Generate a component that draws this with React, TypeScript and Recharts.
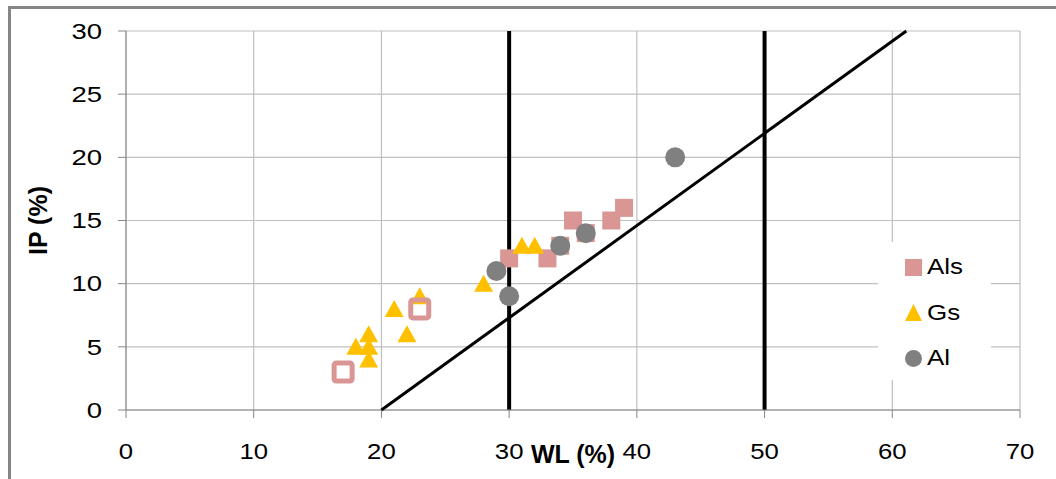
import React from 'react';
import {
  ScatterChart,
  Scatter,
  XAxis,
  YAxis,
  CartesianGrid,
  ReferenceLine,
  Legend,
  Label,
} from 'recharts';

const FONT = '"Liberation Sans", Arial, Helvetica, sans-serif';
const PINK = '#D99694';
const YELLOW = '#FFC000';
const GRAY = '#808080';
const GRID = '#BFBFBF';
const AXIS = '#868686';

// Als samples (filled squares)
const alsWL = [30, 33, 34, 35, 36, 38, 39];
const alsIP = [12, 12, 13, 15, 14, 15, 16];
// Als samples shown as open squares
const alsOpenWL = [17, 23];
const alsOpenIP = [3, 8];
// Gs samples
const gsWL = [18, 19, 19, 19, 21, 22, 23, 28, 31, 32];
const gsIP = [5, 6, 5, 4, 8, 6, 9, 10, 13, 13];
// Al samples
const alWL = [29, 30, 34, 36, 43];
const alIP = [11, 9, 13, 14, 20];
// A-line end points
const aLineWL = [20, 61.1];
const aLineIP = [0, 30];
// liquid limit boundaries
const limitWL = [30, 50];

const xTicks = [0, 10, 20, 30, 40, 50, 60, 70];
const yTicks = [0, 5, 10, 15, 20, 25, 30];
const legendOrder = ['Als', 'Gs', 'Al'];

const toPoints = (wl: number[], ip: number[]) => wl.map((w, i) => ({ wl: w, ip: ip[i] }));

const SquareMark = (p: any) => <rect x={p.cx - 9} y={p.cy - 9} width={18} height={18} fill={PINK} />;
const OpenSquareMark = (p: any) => (
  <rect x={p.cx - 9} y={p.cy - 9} width={18} height={18} rx={2} fill="none" stroke={PINK} strokeWidth={5} />
);
const TriangleMark = (p: any) => (
  <polygon points={`${p.cx},${p.cy - 9} ${p.cx + 9.5},${p.cy + 8} ${p.cx - 9.5},${p.cy + 8}`} fill={YELLOW} />
);
const CircleMark = (p: any) => <circle cx={p.cx} cy={p.cy} r={10} fill={GRAY} />;
const NoMark = () => <g />;

// tick labels, slightly widened
const YTick = (p: any) => (
  <g transform={`translate(${p.x},${p.y})`}>
    <text transform="scale(1.25,1)" textAnchor="end" dy="0.355em" fontSize={22} fontFamily={FONT} fill="#000">
      {p.payload.value}
    </text>
  </g>
);
const XTick = (p: any) => (
  <g transform={`translate(${p.x},${p.y})`}>
    <text transform="scale(1.12,1)" textAnchor="middle" dy="0.71em" fontSize={23} fontFamily={FONT} fill="#000">
      {p.payload.value}
    </text>
  </g>
);

const legendIcon = (type: string, color: string) => {
  if (type === 'triangle') return <polygon points="8.5,0 17,17 0,17" fill={color} />;
  if (type === 'circle') return <circle cx={8.5} cy={8.5} r={8.5} fill={color} />;
  return <rect x={0} y={0} width={17} height={17} fill={color} />;
};

const LegendBox = (props: any) => {
  const items = (props.payload || [])
    .filter((e: any) => e.type !== 'none' && legendOrder.includes(e.value))
    .sort((a: any, b: any) => legendOrder.indexOf(a.value) - legendOrder.indexOf(b.value));
  return (
    <div style={{ position: 'relative', width: 113, height: 138, background: '#fff' }}>
      {items.map((entry: any, i: number) => (
        <div
          key={entry.value}
          style={{
            position: 'absolute',
            left: 27,
            top: 25 + i * 45.5 - 15,
            height: 30,
            display: 'flex',
            alignItems: 'center',
            whiteSpace: 'nowrap',
          }}
        >
          <svg width={17} height={17} style={{ display: 'block' }}>
            {legendIcon(entry.type, entry.color)}
          </svg>
          <span
            style={{
              marginLeft: 5,
              fontSize: 22,
              fontFamily: FONT,
              color: '#000',
              lineHeight: '30px',
              display: 'inline-block',
              transform: 'scaleX(1.18)',
              transformOrigin: 'left center',
            }}
          >
            {entry.value}
          </span>
        </div>
      ))}
    </div>
  );
};

const XTitle = (p: any) => {
  const vb = p.viewBox || { x: 126, y: 410, width: 894, height: 69 };
  return (
    <text x={vb.x + vb.width / 2} y={vb.y + 53} textAnchor="middle" fontSize={25} fontWeight="bold" fontFamily={FONT} fill="#000">
      WL (%)
    </text>
  );
};

const YTitle = (p: any) => {
  const vb = p.viewBox || { x: 0, y: 31, width: 126, height: 379 };
  const cy = vb.y + vb.height / 2;
  return (
    <text x={47} y={cy} transform={`rotate(-90, 47, ${cy})`} textAnchor="middle" fontSize={25} fontWeight="bold" fontFamily={FONT} fill="#000">
      IP (%)
    </text>
  );
};

export default function App() {
  return (
    <div style={{ position: 'absolute', left: 0, top: 0, width: 1056, height: 479, overflow: 'hidden', background: '#fff' }}>
      <div
        style={{
          position: 'absolute',
          left: 8,
          top: 6,
          width: 1200,
          height: 600,
          borderLeft: `3px solid ${AXIS}`,
          borderTop: `3px solid ${AXIS}`,
        }}
      />
      <div style={{ position: 'absolute', left: 0, top: 0 }}>
        <ScatterChart width={1056} height={479} margin={{ top: 31, right: 36, bottom: 0, left: 0 }}>
          <CartesianGrid stroke={GRID} strokeWidth={1.2} />
          <XAxis
            type="number"
            dataKey="wl"
            domain={[0, 70]}
            ticks={xTicks}
            interval={0}
            height={69}
            stroke={AXIS}
            tickSize={8}
            tickMargin={25}
            tick={XTick}
          >
            <Label content={XTitle} />
          </XAxis>
          <YAxis
            type="number"
            dataKey="ip"
            domain={[0, 30]}
            ticks={yTicks}
            interval={0}
            width={126}
            stroke={AXIS}
            tickSize={8}
            tickMargin={16}
            tick={YTick}
          >
            <Label content={YTitle} />
          </YAxis>
          <Legend
            layout="vertical"
            align="center"
            verticalAlign="middle"
            content={<LegendBox />}
            wrapperStyle={{ left: 878, top: 242, width: 113, height: 138, margin: 0 }}
          />
          <Scatter name="Als" data={toPoints(alsWL, alsIP)} fill={PINK} legendType="square" shape={SquareMark} isAnimationActive={false} />
          <Scatter name="Gs" data={toPoints(gsWL, gsIP)} fill={YELLOW} legendType="triangle" shape={TriangleMark} isAnimationActive={false} />
          <Scatter name="Al" data={toPoints(alWL, alIP)} fill={GRAY} legendType="circle" shape={CircleMark} isAnimationActive={false} />
          <Scatter name="Als (open)" data={toPoints(alsOpenWL, alsOpenIP)} fill={PINK} legendType="none" shape={OpenSquareMark} isAnimationActive={false} />
          {limitWL.map((w) => (
            <ReferenceLine key={w} x={w} stroke="#000" strokeWidth={4} />
          ))}
          <Scatter
            name="A-line"
            data={toPoints(aLineWL, aLineIP)}
            legendType="none"
            line={{ stroke: '#000', strokeWidth: 3 }}
            shape={NoMark}
            isAnimationActive={false}
          />
        </ScatterChart>
      </div>
    </div>
  );
}
